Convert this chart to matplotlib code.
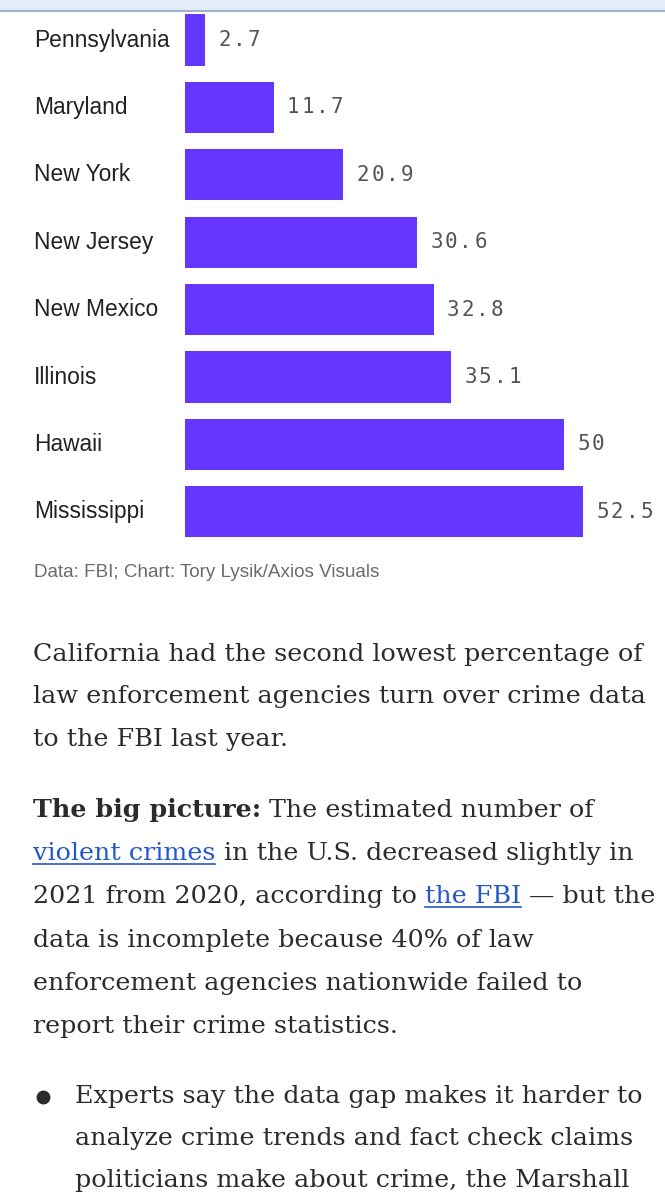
import matplotlib
matplotlib.use('Agg')
import matplotlib.pyplot as plt
import matplotlib.transforms as mtransforms
from matplotlib.patches import Rectangle
from matplotlib.lines import Line2D

W, H = 665, 1200  # px

# chart data
states = ['Pennsylvania', 'Maryland', 'New York', 'New Jersey',
          'New Mexico', 'Illinois', 'Hawaii', 'Mississippi']
values = [2.7, 11.7, 20.9, 30.6, 32.8, 35.1, 50, 52.5]
value_labels = ['2.7', '11.7', '20.9', '30.6', '32.8', '35.1', '50', '52.5']
source = 'Data: FBI; Chart: Tory Lysik/Axios Visuals'

# article text below the chart: (text, style) segments per line
para1 = [
    [('California had the second lowest percentage of', 'n')],
    [('law enforcement agencies turn over crime data', 'n')],
    [('to the FBI last year.', 'n')],
]
para2 = [
    [('The big picture:', 'b'), (' ', 'n'), ('The estimated number of', 'n')],
    [('violent crimes', 'l'), (' ', 'n'), ('in the U.S. decreased slightly in', 'n')],
    [('2021 from 2020, according to', 'n'), (' ', 'n'), ('the FBI', 'l'), (' ', 'n'), ('\u2014 but the', 'n')],
    [('data is incomplete because 40% of law', 'n')],
    [('enforcement agencies nationwide failed to', 'n')],
    [('report their crime statistics.', 'n')],
]
bullet = [
    [('Experts say the data gap makes it harder to', 'n')],
    [('analyze crime trends and fact check claims', 'n')],
    [('politicians make about crime, the Marshall', 'n')],
]

BAR = '#6536ff'
SANS = 'Liberation Sans'
MONO = 'DejaVu Sans Mono'
SERIF = 'DejaVu Serif'
LINK = '#2457c9'
INK = '#2b2b2b'


def fx(x):
    return x / W


def fy(y):
    return 1 - y / H


fig = plt.figure(figsize=(W / 100, H / 100), dpi=100)
fig.patch.set_facecolor('white')

# browser-ish band at the very top
fig.patches.append(Rectangle((0, fy(10)), 1, 10 / H, transform=fig.transFigure,
                             facecolor='#e3edfa', edgecolor='none', zorder=0))
fig.lines.append(Line2D([0, 1], [fy(11), fy(11)], transform=fig.transFigure,
                        color='#9db6c6', lw=1.5))

# bar chart
step = 67.4
top = 40 - step / 2
ax = fig.add_axes([fx(185), fy(top + 8 * step), fx(455), 8 * step / H])
ax.set_facecolor('none')
ypos = list(range(len(states)))
ax.barh(ypos, values, height=0.76, color=BAR)
ax.set_xlim(0, 60)
ax.set_ylim(7.5, -0.5)
ax.axis('off')

# value labels: wide fixed-pitch digits
pitch = 14.7
for i, v in enumerate(values):
    for k, ch in enumerate(value_labels[i]):
        ax.annotate(ch, (v, i), xytext=(12 + pitch * k + pitch / 2, 0),
                    textcoords='offset pixels', va='center', ha='center',
                    fontsize=15, family=MONO, color='#555555')

lab_tr = mtransforms.blended_transform_factory(fig.transFigure, ax.transData)
for i, s in enumerate(states):
    ax.text(fx(34), i, s, transform=lab_tr, ha='left', va='center',
            fontsize=16.4, family=SANS, color='#222222')

fig.text(fx(34), fy(577), source, fontsize=13.6, family=SANS, color='#6b6b6b',
         va='baseline', ha='left')

# article text
renderer = fig.canvas.get_renderer()


def seg_width(s, weight, fs):
    t = fig.text(0, 0, s, fontsize=fs, family=SERIF, weight=weight)
    w = t.get_window_extent(renderer).width
    t.remove()
    return w


# size the serif so the first line spans roughly as in the screenshot
FS = 20 * 606 / seg_width(para1[0][0][0], 'normal', 20)
space_w = seg_width('a a', 'normal', FS) - seg_width('aa', 'normal', FS)


def draw_line(x, y, segs):
    for s, st in segs:
        if s == ' ':
            x += space_w
            continue
        weight = 'bold' if st == 'b' else 'normal'
        color = LINK if st == 'l' else INK
        t = fig.text(fx(x), fy(y), s, fontsize=FS, family=SERIF, weight=weight,
                     color=color, va='baseline', ha='left')
        w = t.get_window_extent(renderer).width
        if st == 'l':
            fig.lines.append(Line2D([fx(x), fx(x + w)], [fy(y + 4), fy(y + 4)],
                                    transform=fig.transFigure, color=LINK, lw=1.2))
        x += w


for k, segs in enumerate(para1):
    draw_line(33, 661 + 42.5 * k, segs)
for k, segs in enumerate(para2):
    draw_line(33, 817 + 43.2 * k, segs)
for k, segs in enumerate(bullet):
    draw_line(75, 1103 + 42 * k, segs)

fig.lines.append(Line2D([fx(43)], [fy(1097)], transform=fig.transFigure,
                        marker='o', markersize=9, color=INK, linestyle='none'))

fig.savefig('out.png', dpi=100)
